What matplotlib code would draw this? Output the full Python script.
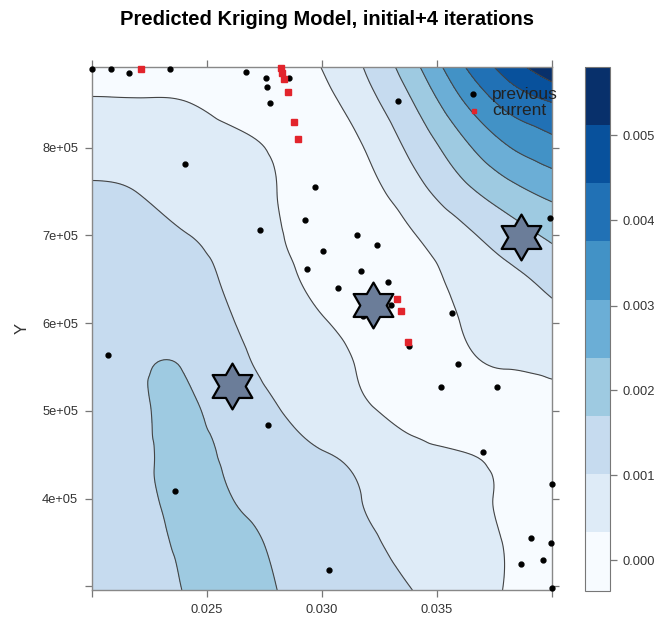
import matplotlib
matplotlib.use("Agg")
import matplotlib.pyplot as plt
import matplotlib.tri as mtri
from matplotlib.colors import ListedColormap, BoundaryNorm
from matplotlib.path import Path
import numpy as np

plt.rcParams['font.family'] = ['Liberation Sans', 'DejaVu Sans']

# grid of predicted values (rows bottom -> top)
x_grid = [0.020, 0.022, 0.024, 0.026, 0.028, 0.030, 0.032, 0.034, 0.036, 0.038, 0.040]
y_grid = [2.96e5, 3.5e5, 4.0e5, 4.5e5, 5.0e5, 5.5e5, 6.0e5, 6.5e5, 7.0e5, 7.5e5, 8.0e5, 8.5e5, 8.92e5]
z_grid = [
    [0.00145, 0.00145, 0.00172, 0.00200, 0.00171, 0.00140, 0.00125, 0.00100, 0.00070, 0.00030, 0.00000],
    [0.00145, 0.00145, 0.00182, 0.00190, 0.00160, 0.00130, 0.00110, 0.00080, 0.00060, 0.00030, 0.00000],
    [0.00145, 0.00150, 0.00190, 0.00172, 0.00147, 0.00123, 0.00097, 0.00070, 0.00048, 0.00025, 0.00000],
    [0.00145, 0.00157, 0.00185, 0.00159, 0.00129, 0.00105, 0.00080, 0.00050, 0.00037, 0.00010, -0.00010],
    [0.00150, 0.00160, 0.00180, 0.00140, 0.00105, 0.00070, 0.00040, 0.00010, -0.00010, -0.00020, 0.00000],
    [0.00145, 0.00163, 0.00168, 0.00122, 0.00088, 0.00060, 0.00020, -0.00010, 0.00010, 0.00036, 0.00047],
    [0.00140, 0.00140, 0.00148, 0.00106, 0.00075, 0.00040, 0.00000, -0.00010, 0.00033, 0.00060, 0.00080],
    [0.00140, 0.00135, 0.00125, 0.00092, 0.00055, 0.00010, -0.00020, 0.00000, 0.00050, 0.00082, 0.00122],
    [0.00130, 0.00125, 0.00104, 0.00078, 0.00040, 0.00000, -0.00020, 0.00030, 0.00082, 0.00134, 0.00182],
    [0.00109, 0.00100, 0.00075, 0.00054, 0.00034, -0.00010, 0.00010, 0.00077, 0.00146, 0.00210, 0.00258],
    [0.00074, 0.00072, 0.00064, 0.00050, 0.00022, -0.00010, 0.00040, 0.00120, 0.00213, 0.00300, 0.00350],
    [0.00039, 0.00038, 0.00036, 0.00010, -0.00010, 0.00010, 0.00079, 0.00170, 0.00293, 0.00390, 0.00440],
    [0.00010, 0.00010, 0.00000, -0.00010, -0.00020, 0.00035, 0.00110, 0.00220, 0.00360, 0.00470, 0.00570],
]
levels = [-0.00036, 0.00033, 0.00101, 0.00170, 0.00238, 0.00307, 0.00375, 0.00444, 0.00512, 0.00581]
band_colors = ['#F7FBFF', '#DEEBF7', '#C6DBEF', '#9ECAE1', '#6BAED6',
               '#4292C6', '#2171B5', '#08519C', '#08306B']

# design points
prev_x = [0.02000, 0.02083, 0.02161, 0.02339, 0.02670, 0.02757, 0.02857, 0.02761, 0.02774,
          0.02404, 0.02970, 0.02926, 0.02730, 0.03152, 0.03239, 0.03330, 0.03991, 0.03004,
          0.02935, 0.03170, 0.03070, 0.03287, 0.03300, 0.03178, 0.03565, 0.03378, 0.03591,
          0.03517, 0.03761, 0.02070, 0.02765, 0.02361, 0.03700, 0.04000, 0.03909, 0.03996,
          0.03865, 0.03961, 0.04000, 0.03030]
prev_y = [8.90e5, 8.90e5, 8.85e5, 8.90e5, 8.86e5, 8.80e5, 8.80e5, 8.69e5, 8.51e5,
          7.82e5, 7.55e5, 7.18e5, 7.06e5, 7.01e5, 6.89e5, 8.53e5, 7.20e5, 6.82e5,
          6.62e5, 6.60e5, 6.40e5, 6.47e5, 6.21e5, 6.08e5, 6.12e5, 5.74e5, 5.54e5,
          5.27e5, 5.27e5, 5.64e5, 4.84e5, 4.09e5, 4.53e5, 4.17e5, 3.55e5, 3.50e5,
          3.26e5, 3.30e5, 2.98e5, 3.19e5]
curr_x = [0.02213, 0.02822, 0.02826, 0.02835, 0.02852, 0.02878, 0.02896, 0.03326, 0.03343, 0.03374]
curr_y = [8.90e5, 8.91e5, 8.85e5, 8.78e5, 8.64e5, 8.29e5, 8.10e5, 6.28e5, 6.14e5, 5.79e5]
star_x = [0.02609, 0.03222, 0.03865]
star_y = [5.285e5, 6.208e5, 6.983e5]

xlim = (0.020, 0.040)
ylim = (2.96e5, 8.92e5)

fig = plt.figure(figsize=(6.54, 6.2), dpi=100)
ax = fig.add_axes([0.1407, 0.0484, 0.7034, 0.8435])

# triangulate in normalised space, refine smoothly, map back
X, Y = np.meshgrid(x_grid, y_grid)
u = (X.ravel() - xlim[0]) / (xlim[1] - xlim[0])
v = (Y.ravel() - ylim[0]) / (ylim[1] - ylim[0]) * 1.137
tri = mtri.Triangulation(u, v)
refiner = mtri.UniformTriRefiner(tri)
tri_ref, z_ref = refiner.refine_field(np.array(z_grid).ravel(), subdiv=4)
z_ref = np.clip(z_ref, levels[0] + 1e-7, levels[-1] - 1e-7)
tri_plot = mtri.Triangulation(xlim[0] + tri_ref.x * (xlim[1] - xlim[0]),
                              ylim[0] + tri_ref.y / 1.137 * (ylim[1] - ylim[0]),
                              tri_ref.triangles)

cmap = ListedColormap(band_colors)
norm = BoundaryNorm(levels, cmap.N)
cf = ax.tricontourf(tri_plot, z_ref, levels=levels, cmap=cmap, norm=norm)
ax.tricontour(tri_plot, z_ref, levels=levels[1:-1], colors='#444444', linewidths=0.8)

ax.plot(prev_x, prev_y, 'o', color='black', ms=3.5, ls='none', clip_on=False, zorder=5)
ax.plot(curr_x, curr_y, 's', color='#e2242c', ms=3.8, ls='none', clip_on=False, zorder=6)

star = Path.unit_regular_star(6, innerCircle=0.577)
ax.plot(star_x, star_y, marker=star, ms=33, mfc='#6b7d99', mec='black', mew=1.6,
        ls='none', zorder=7)

# key
ax.plot([0.828], [0.948], 'o', color='black', ms=3.5, transform=ax.transAxes, clip_on=False, zorder=8)
ax.plot([0.830], [0.916], 's', color='#e2242c', ms=3, transform=ax.transAxes, clip_on=False, zorder=8)
ax.text(0.870, 0.948, 'previous', transform=ax.transAxes, fontsize=12.5, color='#222222',
        va='center', ha='left', clip_on=False, zorder=8)
ax.text(0.870, 0.916, 'current', transform=ax.transAxes, fontsize=12.5, color='#222222',
        va='center', ha='left', clip_on=False, zorder=8)

ax.set_xlim(*xlim)
ax.set_ylim(*ylim)
ax.set_xticks([0.020, 0.025, 0.030, 0.035, 0.040])
ax.set_xticklabels(['', '0.025', '0.030', '0.035', ''])
ax.set_yticks([3e5, 4e5, 5e5, 6e5, 7e5, 8e5])
ax.set_yticklabels(['', '4e+05', '5e+05', '6e+05', '7e+05', '8e+05'])
ax.tick_params(direction='out', top=True, right=True, length=5, width=0.9,
               color='#777777', labelsize=9.3, labelcolor='#333333', pad=5)
for s in ax.spines.values():
    s.set_color('#888888')
    s.set_linewidth(1.0)
ax.set_ylabel('Y', fontsize=12, color='#333333', labelpad=9)

fig.text(0.5, 0.969, 'Predicted Kriging Model, initial+4 iterations',
         ha='center', va='center', fontsize=14.5, fontweight='bold')

cax = fig.add_axes([0.8945, 0.0473, 0.0382, 0.845])
cb = fig.colorbar(cf, cax=cax, ticks=[0.000, 0.001, 0.002, 0.003, 0.004, 0.005])
cb.minorticks_off()
cb.ax.set_yticklabels(['0.000', '0.001', '0.002', '0.003', '0.004', '0.005'])
cb.ax.tick_params(direction='out', length=5, width=0.9, color='#777777',
                  labelsize=9.3, labelcolor='#333333', pad=4)
cb.outline.set_edgecolor('#777777')

plt.savefig('out.png', dpi=100)
